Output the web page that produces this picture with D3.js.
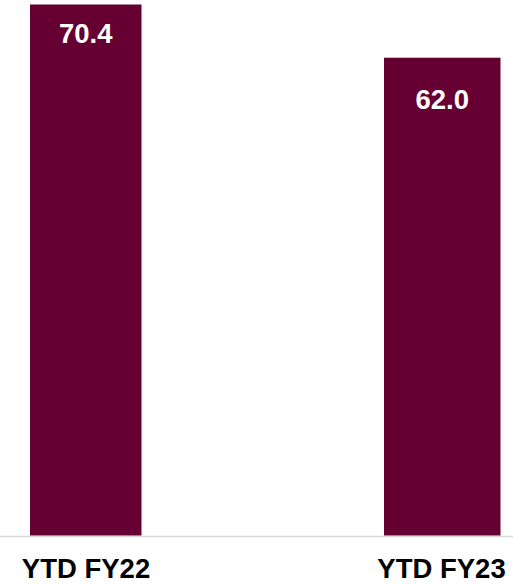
<!DOCTYPE html>
<html><head><meta charset="utf-8">
<script src="https://cdn.jsdelivr.net/npm/d3@7"></script>
<style>html,body{margin:0;padding:0;background:#fff;}svg{display:block;}</style>
</head><body>
<svg id="chart" width="513" height="586"></svg>
<script>
const categories = ["YTD FY22", "YTD FY23"];
const values = [70.4, 62.0];
const valueLabels = ["70.4", "62.0"];

const svg = d3.select("#chart");
const font = "'Liberation Sans', Arial, sans-serif";

const x = d3.scalePoint().domain(categories).range([85.75, 442.25]);
const y = d3.scaleLinear().domain([-13.5, 70.4]).range([536, 4.5]);

svg.append("line").attr("x1", 0).attr("x2", 513).attr("y1", 536.5).attr("y2", 536.5)
  .attr("stroke", "#d9d9d9").attr("stroke-width", 1.5);

const widths = [111.5, 116.5];
const centers = categories.map(c => x(c));

svg.selectAll("rect.bar").data(values).join("rect").attr("class", "bar")
  .attr("x", (d, i) => centers[i] - widths[i] / 2)
  .attr("width", (d, i) => widths[i])
  .attr("y", d => y(d))
  .attr("height", d => y(-13.5) - y(d) - 0.5)
  .attr("fill", "#660033");

const labelOffsets = [38.5, 51.5];
svg.selectAll("text.val").data(values).join("text").attr("class", "val")
  .attr("x", (d, i) => centers[i])
  .attr("y", (d, i) => y(d) + labelOffsets[i])
  .attr("text-anchor", "middle")
  .attr("fill", "#fff").attr("font-family", font).attr("font-weight", "bold").attr("font-size", 27.5)
  .text((d, i) => valueLabels[i]);

const catCenters = [86, 441.5];
svg.selectAll("text.cat").data(categories).join("text").attr("class", "cat")
  .attr("x", (d, i) => catCenters[i])
  .attr("y", 578)
  .attr("text-anchor", "middle")
  .attr("fill", "#000").attr("font-family", font).attr("font-weight", "bold").attr("font-size", 27.5)
  .text(d => d);
</script>
</body></html>
